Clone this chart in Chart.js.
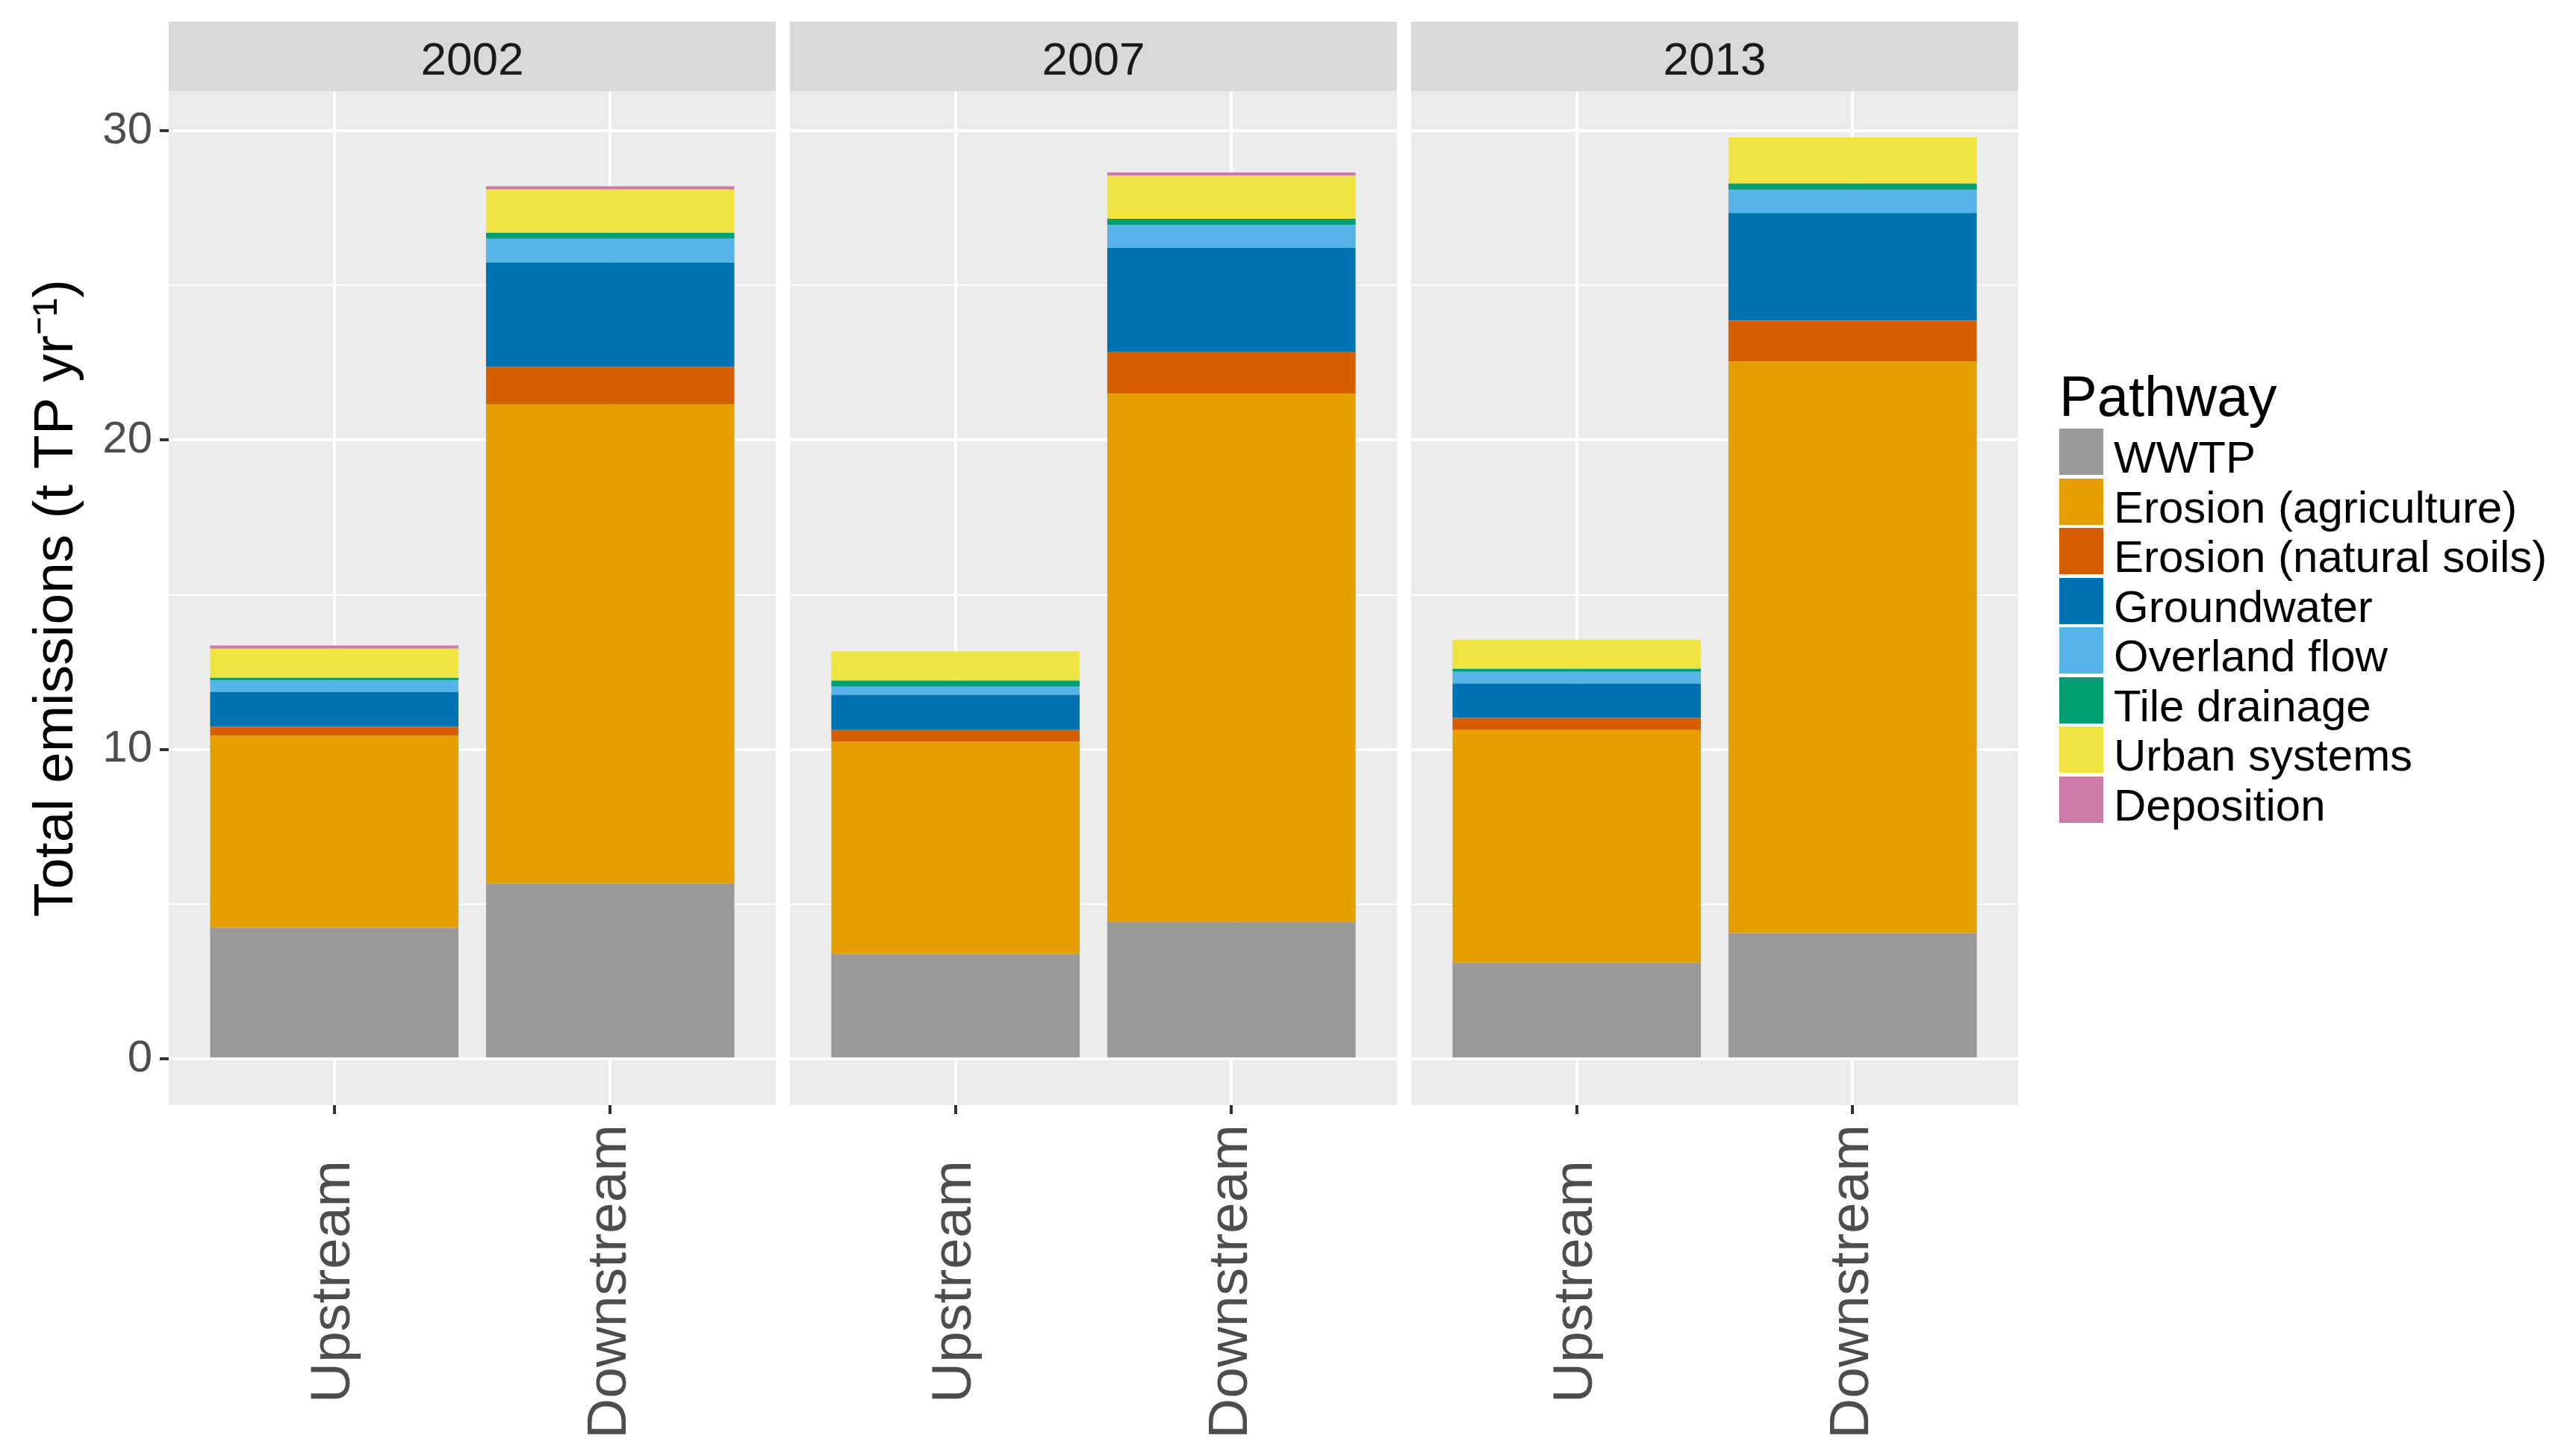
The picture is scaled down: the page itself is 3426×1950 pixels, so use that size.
<!DOCTYPE html>
<html>
<head>
<meta charset="utf-8">
<script src="https://cdn.jsdelivr.net/npm/chart.js@4.4.1/dist/chart.umd.min.js"></script>
<style>
  html, body { margin: 0; padding: 0; background: #fff; }
  body { width: 3426px; height: 1950px; position: relative; overflow: hidden;
         font-family: "Liberation Sans", Arial, sans-serif; }
  .panel { position: absolute; top: 0; height: 1950px; }
  #legend { position: absolute; left: 2758px; top: 0; color: #000; }
  #legend .title { position: absolute; left: 0; top: 493px; font-size: 76px; line-height: 76px; white-space: nowrap; }
  #legend .row { position: absolute; left: 0; height: 62px; white-space: nowrap; }
  #legend .key { position: absolute; left: 0; top: 0; width: 59px; height: 62px; }
  #legend .lab { position: absolute; left: 73px; top: 8px; font-size: 60px; line-height: 62px; }
</style>
</head>
<body>
<div class="panel" id="p0" style="left:0px;width:1039px"><canvas id="c0"></canvas></div>
<div class="panel" id="p1" style="left:1058px;width:813px"><canvas id="c1"></canvas></div>
<div class="panel" id="p2" style="left:1890px;width:813px"><canvas id="c2"></canvas></div>
<div id="legend"></div>
<script>
const years = ["2002", "2007", "2013"];
const sites = ["Upstream", "Downstream"];
const pathways = [
  "WWTP",
  "Erosion (agriculture)",
  "Erosion (natural soils)",
  "Groundwater",
  "Overland flow",
  "Tile drainage",
  "Urban systems",
  "Deposition",
];
const colors = ["#999999", "#E69F00", "#D55E00", "#0072B2", "#56B4E9", "#009E73", "#F0E442", "#CC79A7"];

// order: 2002 up, 2002 down, 2007 up, 2007 down, 2013 up, 2013 down
const wwtp        = [4.24, 5.67, 3.39, 4.43, 3.11, 4.07];
const erosionAgri = [6.20, 15.48, 6.86, 17.07, 7.52, 18.47];
const erosionNat  = [0.29, 1.21, 0.38, 1.34, 0.39, 1.32];
const groundwater = [1.13, 3.38, 1.14, 3.37, 1.11, 3.48];
const overland    = [0.37, 0.77, 0.26, 0.75, 0.38, 0.75];
const tile        = [0.09, 0.19, 0.20, 0.19, 0.10, 0.20];
const urban       = [0.94, 1.40, 0.94, 1.40, 0.94, 1.49];
const deposition  = [0.10, 0.10, 0.00, 0.10, 0.00, 0.00];
const series = [wwtp, erosionAgri, erosionNat, groundwater, overland, tile, urban, deposition];

const yTicks = [0, 10, 20, 30];
const yMinor = [5, 15, 25];

// ggplot style 5% expansion of the y range
const totals = wwtp.map((_, i) => series.reduce((s, arr) => s + arr[i], 0));
const yTop = Math.max(...totals);
const yMin = -0.05 * yTop;
const yMax = yTop * 1.05;

const FONT = '"Liberation Sans", Arial, sans-serif';
Chart.defaults.font.family = FONT;
Chart.defaults.animation = false;

// grey panel + facet strip behind everything
const panelBg = {
  id: "panelBg",
  beforeDraw(chart) {
    const { ctx, chartArea: a } = chart;
    ctx.save();
    ctx.fillStyle = "#EBEBEB";
    ctx.fillRect(a.left, a.top, a.right - a.left, a.bottom - a.top);
    const tb = chart.titleBlock;
    ctx.fillStyle = "#D9D9D9";
    ctx.fillRect(a.left, tb.top, a.right - a.left, tb.bottom - tb.top);
    ctx.restore();
  },
};

// vertical x labels, centred in the label band like ggplot's hjust = 0.5
const xLabels = {
  id: "xLabels",
  afterDraw(chart) {
    const { ctx } = chart;
    const xs = chart.scales.x;
    ctx.save();
    ctx.font = "75px " + FONT;
    ctx.fillStyle = "#4D4D4D";
    const widest = Math.max(...sites.map((s) => ctx.measureText(s).width));
    const mid = xs.top + 12 + 14 + widest / 2;
    ctx.textAlign = "center";
    ctx.textBaseline = "middle";
    sites.forEach((s, i) => {
      ctx.save();
      ctx.translate(xs.getPixelForValue(i + 1), mid);
      ctx.rotate(-Math.PI / 2);
      ctx.fillText(s, 0, 0);
      ctx.restore();
    });
    ctx.restore();
  },
};

const makeChart = (yi) => {
  const first = yi === 0;
  const datasets = pathways.map((name, p) => ({
    label: name,
    data: sites.map((s, si) => ({ x: si + 1, y: series[p][yi * 2 + si] })),
    backgroundColor: colors[p],
    borderWidth: 0,
    barPercentage: 0.9,
    categoryPercentage: 1.0,
  }));

  const config = {
    type: "bar",
    data: { datasets },
    options: {
      responsive: true,
      maintainAspectRatio: false,
      events: [],
      layout: { padding: { top: 29, left: 0, right: 0, bottom: 0 } },
      plugins: {
        legend: { display: false },
        tooltip: { enabled: false },
        title: {
          display: true,
          text: years[yi],
          fullSize: false,
          color: "#1A1A1A",
          font: { size: 62, weight: "normal", lineHeight: 1.2 },
          padding: { top: 17, bottom: 2 },
        },
      },
      scales: {
        x: {
          type: "linear",
          stacked: true,
          offset: false,
          min: 0.4,
          max: 2.6,
          afterBuildTicks: (scale) => { scale.ticks = sites.map((s, i) => ({ value: i + 1 })); },
          afterFit: (scale) => { scale.height = 470; },
          border: { display: false },
          grid: { offset: false, color: "#FFFFFF", lineWidth: 4, tickLength: 12, tickColor: "#333333", tickWidth: 4 },
          ticks: { display: false },
        },
        y: {
          stacked: true,
          min: yMin,
          max: yMax,
          afterBuildTicks: (scale) => {
            scale.ticks = yTicks.concat(yMinor).sort((a, b) => a - b).map((v) => ({ value: v }));
          },
          afterFit: (scale) => { scale.width = first ? 226 : 0; },
          border: { display: false },
          grid: {
            color: "#FFFFFF",
            lineWidth: (ctx) => (yTicks.includes(ctx.tick && ctx.tick.value) ? 4 : 2),
            drawTicks: first,
            tickLength: 12,
            tickWidth: 4,
            tickColor: (ctx) => (yTicks.includes(ctx.tick && ctx.tick.value) ? "#333333" : "rgba(0,0,0,0)"),
          },
          ticks: {
            display: first,
            callback: (v) => (yTicks.includes(v) ? String(v) : ""),
            padding: 10,
            color: "#4D4D4D",
            font: { size: 60 },
          },
          title: {
            display: first,
            text: "Total emissions (t TP yr\u207B\u00B9)",
            color: "#000000",
            font: { size: 75, lineHeight: 1.2 },
            padding: { top: 31, bottom: 0 },
          },
        },
      },
    },
    plugins: [panelBg, xLabels],
  };
  return new Chart(document.getElementById("c" + yi), config);
};

years.forEach((y, i) => makeChart(i));

// legend built from the same pathway list
const legend = document.getElementById("legend");
const t = document.createElement("div");
t.className = "title";
t.textContent = "Pathway";
legend.appendChild(t);
pathways.forEach((name, i) => {
  const row = document.createElement("div");
  row.className = "row";
  row.style.top = (574 + i * 66.5) + "px";
  const key = document.createElement("div");
  key.className = "key";
  key.style.background = colors[i];
  const lab = document.createElement("div");
  lab.className = "lab";
  lab.textContent = name;
  row.appendChild(key);
  row.appendChild(lab);
  legend.appendChild(row);
});
</script>
</body>
</html>
